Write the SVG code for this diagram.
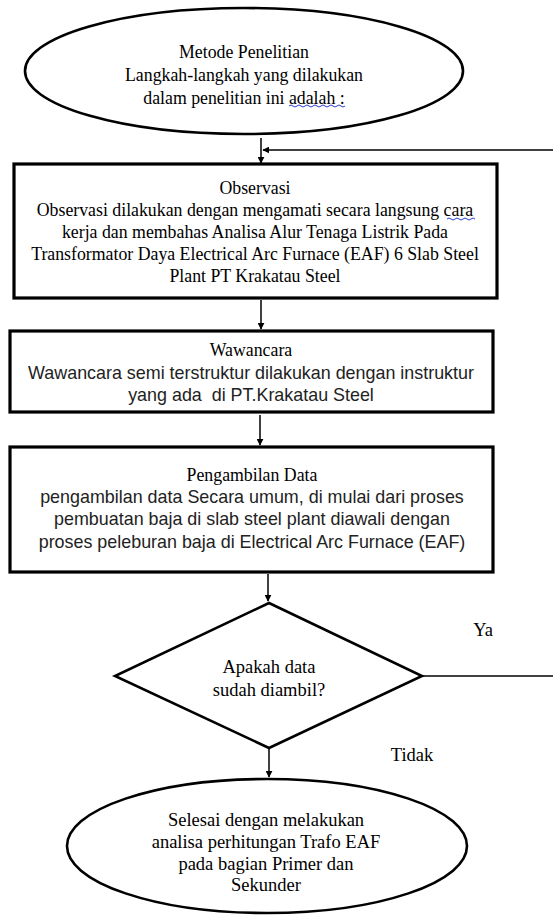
<svg xmlns="http://www.w3.org/2000/svg" width="553" height="919" viewBox="0 0 553 919">
<style>
.sf{font-family:"Liberation Serif","Times New Roman",serif;font-size:18.5px;fill:#000;text-anchor:middle}
.sb{font-size:17.8px}
.ss{font-family:"Liberation Sans",Arial,sans-serif;font-size:17.9px;fill:#222;text-anchor:middle}
.shape{fill:#fff;stroke:#000;stroke-width:2.6}
.box{fill:#fff;stroke:#000;stroke-width:3.2}
.conn{fill:none;stroke:#000;stroke-width:1.5}
.wavy{fill:none;stroke:#2a3fd0;stroke-width:1}
</style>
<defs>
<marker id="ah" viewBox="0 0 10 10" refX="9" refY="5" markerWidth="7" markerHeight="7" markerUnits="userSpaceOnUse" orient="auto">
<path d="M0,0 L10,5 L0,10 z" fill="#000"/>
</marker>
</defs>
<rect width="553" height="919" fill="#fff"/>
<g id="connectors">
<line class="conn" x1="261" y1="138" x2="261" y2="163" marker-end="url(#ah)"/>
<line class="conn" x1="553" y1="150" x2="263" y2="150" stroke-width="1.3" marker-end="url(#ah)"/>
<line class="conn" x1="261" y1="300" x2="261" y2="329" marker-end="url(#ah)"/>
<line class="conn" x1="260" y1="415" x2="260" y2="445" marker-end="url(#ah)"/>
<line class="conn" x1="268" y1="574" x2="268" y2="601" marker-end="url(#ah)"/>
<line class="conn" x1="422" y1="676" x2="553" y2="676" stroke-width="1.3"/>
<line class="conn" x1="269" y1="748" x2="269" y2="777" marker-end="url(#ah)"/>
</g>
<g id="start">
<ellipse class="shape" cx="244" cy="71" rx="219" ry="63"/>
<text class="sf sb" x="244" y="58">Metode Penelitian</text>
<text class="sf sb" x="244" y="81">Langkah-langkah yang dilakukan</text>
<text class="sf sb" x="244" y="104">dalam penelitian ini adalah :</text>
<path class="wavy" d="M289,106 q2,-2 4,0 t4,0 t4,0 t4,0 t4,0 t4,0 t4,0 t4,0 t4,0 t4,0 t4,0 t4,0 t4,0 t4,0"/>
</g>
<g id="observasi">
<rect class="box" x="14" y="164" width="483" height="134"/>
<text class="sf sb" x="255" y="194">Observasi</text>
<text class="sf sb" x="255" y="216">Observasi dilakukan dengan mengamati secara langsung cara</text>
<text class="sf sb" x="255" y="238">kerja dan membahas Analisa Alur Tenaga Listrik Pada</text>
<text class="sf sb" x="255" y="260">Transformator Daya Electrical Arc Furnace (EAF) 6 Slab Steel</text>
<text class="sf sb" x="255" y="282">Plant PT Krakatau Steel</text>
<path class="wavy" d="M447,219 q2,-2 4,0 t4,0 t4,0 t4,0 t4,0 t4,0 t4,0"/>
</g>
<g id="wawancara">
<rect class="box" x="10" y="331" width="483" height="81"/>
<text class="sf sb" x="251" y="356">Wawancara</text>
<text class="ss" x="251" y="379">Wawancara semi terstruktur dilakukan dengan instruktur</text>
<text class="ss" x="251" y="401" xml:space="preserve">yang ada  di PT.Krakatau Steel</text>
</g>
<g id="pengambilan">
<rect class="box" x="10" y="447" width="483" height="125"/>
<text class="sf sb" x="252" y="481">Pengambilan Data</text>
<text class="ss" x="252" y="503">pengambilan data Secara umum, di mulai dari proses</text>
<text class="ss" x="252" y="525">pembuatan baja di slab steel plant diawali dengan</text>
<text class="ss" x="252" y="548">proses peleburan baja di Electrical Arc Furnace (EAF)</text>
</g>
<g id="decision">
<polygon class="shape" points="269,603 422,676 269,748 115,676"/>
<text class="sf" x="269" y="673">Apakah data</text>
<text class="sf" x="269" y="696">sudah diambil?</text>
</g>
<g id="labels">
<text class="sf" x="483" y="636">Ya</text>
<text class="sf" x="412" y="761">Tidak</text>
</g>
<g id="end">
<ellipse class="shape" cx="267" cy="846" rx="200" ry="67"/>
<text class="sf" x="266" y="826">Selesai dengan melakukan</text>
<text class="sf" x="266" y="848">analisa perhitungan Trafo EAF</text>
<text class="sf" x="266" y="870">pada bagian Primer dan</text>
<text class="sf" x="266" y="891">Sekunder</text>
</g>
</svg>
